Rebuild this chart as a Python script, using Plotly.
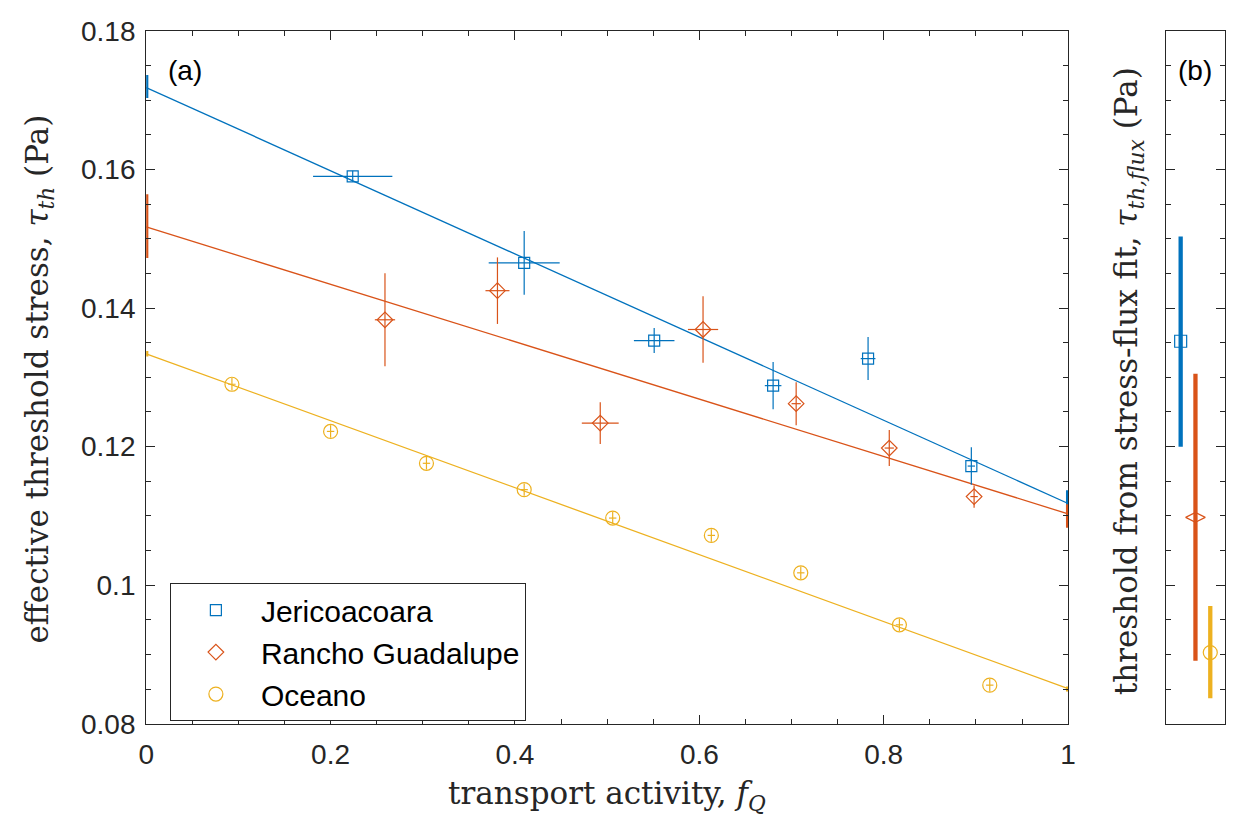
import plotly.graph_objects as go

# ---------------- data ----------------
sites = ["Jericoacoara", "Rancho Guadalupe", "Oceano"]
colors = ["#0072BD", "#D95319", "#EDB120"]

jeri_fq = [0.224, 0.410, 0.551, 0.680, 0.783, 0.895]
jeri_tau = [0.1590, 0.1465, 0.1353, 0.1288, 0.1327, 0.1172]
jeri_fq_err = [0.043, 0.0385, 0.022, 0.009, 0.008, 0.004]
jeri_tau_err = [0.0008, 0.0046, 0.0018, 0.0034, 0.0031, 0.0027]

rg_fq = [0.259, 0.381, 0.4925, 0.604, 0.705, 0.806, 0.898]
rg_tau = [0.1383, 0.1425, 0.1234, 0.1369, 0.1262, 0.1198, 0.1128]
rg_fq_err = [0.011, 0.013, 0.020, 0.0164, 0.005, 0.005, 0.004]
rg_tau_err = [0.0067, 0.0048, 0.0030, 0.0048, 0.0031, 0.0026, 0.0016]

oc_fq = [0.093, 0.200, 0.304, 0.410, 0.506, 0.613, 0.710, 0.817, 0.915]
oc_tau = [0.1290, 0.1222, 0.1176, 0.1138, 0.1097, 0.1072, 0.1018, 0.0943, 0.0856]
oc_fq_err = [0.004, 0.004, 0.004, 0.004, 0.004, 0.004, 0.004, 0.004, 0.004]
oc_tau_err = [0.0009, 0.0009, 0.0009, 0.0009, 0.0009, 0.0009, 0.0009, 0.0009, 0.0009]

# linear fits (values at f_Q = 0 and 1)
fit_fq = [0, 1]
fit_jeri = [0.1718, 0.1118]
fit_rg = [0.1517, 0.1103]
fit_oc = [0.1334, 0.0851]

# fit uncertainty at the ends (f_Q = 0 and 1)
end_fq = [0, 1]
jeri_end_lo = [0.1703, 0.1095]
jeri_end_hi = [0.1736, 0.1137]
rg_end_lo = [0.1472, 0.1083]
rg_end_hi = [0.1564, 0.1117]
oc_end_lo = [0.1330, 0.0847]
oc_end_hi = [0.1338, 0.0854]

# panel (b): threshold from stress-flux fit
flux_pos = [1, 2, 3]
flux_tau = [0.1352, 0.1098, 0.0903]
flux_lo = [0.1200, 0.0891, 0.0837]
flux_hi = [0.1503, 0.1305, 0.0970]

y_tickvals = [0.08, 0.10, 0.12, 0.14, 0.16, 0.18]
y_ticktext = ["0.08", "0.1", "0.12", "0.14", "0.16", "0.18"]
x_tickvals = [0, 0.2, 0.4, 0.6, 0.8, 1.0]
x_ticktext = ["0", "0.2", "0.4", "0.6", "0.8", "1"]

# ---------------- figure ----------------
W, H = 1239, 835
AX = "#262626"
SANS = "Liberation Sans, Arial, Helvetica, sans-serif"
SERIF = "DejaVu Serif, Liberation Serif, serif"

fig = go.Figure()

series = [
    (sites[0], jeri_fq, jeri_tau, jeri_fq_err, jeri_tau_err, "square-open", 11, fit_jeri, jeri_end_lo, jeri_end_hi),
    (sites[1], rg_fq, rg_tau, rg_fq_err, rg_tau_err, "diamond-open", 12, fit_rg, rg_end_lo, rg_end_hi),
    (sites[2], oc_fq, oc_tau, oc_fq_err, oc_tau_err, "circle-open", 14, fit_oc, oc_end_lo, oc_end_hi),
]

# fit lines
for (name, fx, fy, fxe, fye, sym, sz, fit, lo, hi), c in zip(series, colors):
    fig.add_trace(go.Scatter(x=fit_fq, y=fit, mode="lines", line=dict(color=c, width=1.3),
                             showlegend=False, hoverinfo="skip", xaxis="x", yaxis="y"))

# thick end bars (fit uncertainty)
for (name, fx, fy, fxe, fye, sym, sz, fit, lo, hi), c in zip(series, colors):
    mid = [(a + b) / 2 for a, b in zip(lo, hi)]
    fig.add_trace(go.Scatter(
        x=end_fq, y=mid, mode="markers",
        marker=dict(size=1, color="rgba(0,0,0,0)"),
        error_y=dict(type="data", symmetric=False,
                     array=[h - m for h, m in zip(hi, mid)],
                     arrayminus=[m - l for m, l in zip(mid, lo)],
                     color=c, thickness=4.3, width=0),
        cliponaxis=False, showlegend=False, hoverinfo="skip", xaxis="x", yaxis="y"))

# data points
for (name, fx, fy, fxe, fye, sym, sz, fit, lo, hi), c in zip(series, colors):
    fig.add_trace(go.Scatter(
        x=fx, y=fy, mode="markers", name=name,
        marker=dict(symbol=sym, size=sz, color=c, line=dict(color=c, width=1.2)),
        error_x=dict(type="data", array=fxe, color=c, thickness=1.2, width=0),
        error_y=dict(type="data", array=fye, color=c, thickness=1.2, width=0),
        xaxis="x", yaxis="y"))

# panel (b)
b_symbols = ["square-open", "diamond-wide-open", "circle-open"]
b_sizes = [12, 14, 14]
for i in range(3):
    fig.add_trace(go.Scatter(
        x=[flux_pos[i]], y=[flux_tau[i]], mode="markers",
        marker=dict(symbol=b_symbols[i], size=b_sizes[i], color=colors[i],
                    line=dict(color=colors[i], width=1.2)),
        error_y=dict(type="data", symmetric=False,
                     array=[flux_hi[i] - flux_tau[i]],
                     arrayminus=[flux_tau[i] - flux_lo[i]],
                     color=colors[i], thickness=4.3, width=0),
        showlegend=False, hoverinfo="skip", xaxis="x2", yaxis="y2"))

y_dom = [(H - 736.3) / H, (H - 16.3) / H]
common_axis = dict(showline=True, linecolor=AX, linewidth=1.2, mirror="allticks",
                   showgrid=False, zeroline=False, ticks="inside", tickcolor=AX,
                   tickwidth=1.1, ticklen=9)
tickfont = dict(family=SANS, size=28, color=AX)

fig.update_layout(
    width=W, height=H,
    margin=dict(l=0, r=0, t=0, b=0),
    paper_bgcolor="white", plot_bgcolor="white",
    xaxis=dict(domain=[140 / W, 1074 / W], range=[0, 1],
               tickvals=x_tickvals, ticktext=x_ticktext, tickfont=tickfont,
               ticklabelstandoff=5,
               minor=dict(dtick=0.05, ticks="inside", ticklen=5, tickcolor=AX, tickwidth=1.0),
               anchor="y", **common_axis),
    yaxis=dict(domain=y_dom, range=[0.08, 0.18],
               tickvals=y_tickvals, ticktext=y_ticktext, tickfont=tickfont,
               ticklabelstandoff=4,
               minor=dict(dtick=0.005, ticks="inside", ticklen=5, tickcolor=AX, tickwidth=1.0),
               anchor="x", **common_axis),
    xaxis2=dict(domain=[1173 / W, 1233 / W], range=[0, 4], showline=True, linecolor=AX,
                linewidth=1.2, mirror=True, showgrid=False, zeroline=False,
                ticks="", showticklabels=False, anchor="y2"),
    yaxis2=dict(domain=y_dom, range=[0.08, 0.18], tickvals=y_tickvals,
                showticklabels=False,
                minor=dict(dtick=0.005, ticks="inside", ticklen=5, tickcolor=AX, tickwidth=1.0),
                anchor="x2", **common_axis),
    legend=dict(x=164 / W, y=(H - 590) / H, xanchor="left", yanchor="top",
                bordercolor=AX, borderwidth=1, bgcolor="white",
                font=dict(family=SANS, size=30, color="black"),
                itemwidth=80, tracegroupgap=0),
    showlegend=True,
    annotations=[
        dict(text="(a)", x=160 / W, y=(H - 58) / H, xref="paper", yref="paper",
             xanchor="left", yanchor="middle", showarrow=False,
             font=dict(family=SANS, size=28, color="black")),
        dict(text="(b)", x=1203 / W, y=(H - 58) / H, xref="paper", yref="paper",
             xanchor="center", yanchor="middle", showarrow=False,
             font=dict(family=SANS, size=28, color="black")),
        dict(text="transport activity, <i>f</i><sub><i>Q</i></sub>",
             x=607 / W, y=(H - 811) / H, xref="paper", yref="paper",
             xanchor="center", yanchor="middle", showarrow=False,
             font=dict(family=SERIF, size=31, color=AX)),
        dict(text="effective threshold stress, <i>τ</i><sub><i>th</i></sub> (Pa)",
             x=32 / W, y=(H - 378) / H, xref="paper", yref="paper",
             xanchor="center", yanchor="middle", showarrow=False, textangle=-90,
             font=dict(family=SERIF, size=31, color=AX)),
        dict(text="threshold from stress-flux fit, <i>τ</i><sub><i>th,flux</i></sub> (Pa)",
             x=1136 / W, y=(H - 380) / H, xref="paper", yref="paper",
             xanchor="center", yanchor="middle", showarrow=False, textangle=-90,
             font=dict(family=SERIF, size=31, color=AX)),
    ],
)

fig.write_html("out.html")
